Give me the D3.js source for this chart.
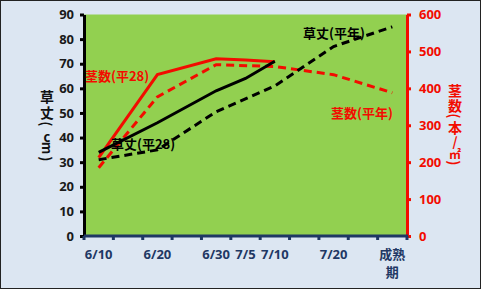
<!DOCTYPE html>
<meta charset="utf-8">
<style>
body { margin: 0; }
svg { display: block; font-family: "Noto Sans CJK JP", "Noto Sans", sans-serif; font-weight: bold; }
</style>
<body></body>
<script src="https://cdn.jsdelivr.net/npm/d3@7"></script>
<script>

var cats = ["6/10", "6/15", "6/20", "6/25", "6/30", "7/5", "7/10", "7/15", "7/20", "7/25", "成熟期"];
var catLabels = ["6/10", "", "6/20", "", "6/30", "7/5", "7/10", "", "7/20", "", "成熟期"];

// 草丈 (cm), left axis
var heightH28 = [34, null, 46, null, 59, 64, 71, null, null, null, null];
var heightAvg = [31, null, 35, null, 50.5, null, 61, null, 77, null, 85];
// 茎数 (本/㎡), right axis
var stemsH28 = [212, null, 437, null, 480, 477, 472, null, null, null, null];
var stemsAvg = [185, null, 377, null, 464, null, 459, null, 437, null, 388];

var leftTicks = [0, 10, 20, 30, 40, 50, 60, 70, 80, 90];
var rightTicks = [0, 100, 200, 300, 400, 500, 600];

var w = 481, h = 289,
    pl = 84, pr = 407, pt = 14.5, pb = 236;

var red = "#f20c00", navy = "#1f3864";

var svg = d3.select("body").append("svg")
    .attr("width", w)
    .attr("height", h);

svg.append("rect")
    .attr("x", 0.5).attr("y", 0.5)
    .attr("width", w - 1).attr("height", h - 1)
    .attr("fill", "#dce6f2")
    .attr("stroke", "#222");

var x = d3.scaleBand().domain(cats).range([pl, pr]);
var yL = d3.scaleLinear().domain([0, 90]).range([pb, pt]);
var yR = d3.scaleLinear().domain([0, 600]).range([pb, pt]);

svg.append("rect")
    .attr("x", pl).attr("y", pt)
    .attr("width", pr - pl).attr("height", pb - pt)
    .attr("fill", "#92d050");

function series(vals) {
  return cats.map(function(c, i) { return {c: c, v: vals[i]}; })
    .filter(function(d) { return d.v != null; });
}

function draw(vals, y, color, dash) {
  var line = d3.line()
      .x(function(d) { return x(d.c) + x.bandwidth() / 2; })
      .y(function(d) { return y(d.v); });
  svg.append("path")
      .datum(series(vals))
      .attr("d", line)
      .attr("fill", "none")
      .attr("stroke", color)
      .attr("stroke-width", 3)
      .attr("stroke-dasharray", dash ? "8,5" : null);
}

draw(stemsAvg, yR, red, true);
draw(heightAvg, yL, "#000", true);
draw(stemsH28, yR, red, false);
draw(heightH28, yL, "#000", false);

// left axis
var ax = svg.append("g")
    .attr("transform", "translate(" + pl + ",0)")
    .call(d3.axisLeft(yL).tickValues(leftTicks).tickSize(4).tickSizeOuter(0).tickPadding(6));
ax.select(".domain").attr("stroke", "#000").attr("stroke-width", 3);
ax.selectAll(".tick line").attr("stroke", "#000").attr("stroke-width", 3);
ax.selectAll(".tick text").attr("fill", "#1a1a1a").style("font-size", "13px").style("font-family", "'Noto Sans', sans-serif");

// right axis
var ar = svg.append("g")
    .attr("transform", "translate(" + pr + ",0)")
    .call(d3.axisRight(yR).tickValues(rightTicks).tickSize(4).tickSizeOuter(0).tickPadding(8));
ar.select(".domain").attr("stroke", red).attr("stroke-width", 3);
ar.selectAll(".tick line").attr("stroke", red).attr("stroke-width", 3);
ar.selectAll(".tick text").attr("fill", red).style("font-size", "13px").style("font-family", "'Noto Sans', sans-serif");

// x axis
var axb = svg.append("g")
    .attr("transform", "translate(0," + pb + ")");
axb.append("line")
    .attr("x1", pl).attr("x2", pr + 1)
    .attr("stroke", navy).attr("stroke-width", 3);
axb.selectAll("line.tk")
    .data(d3.range(cats.length + 1))
  .enter().append("line")
    .attr("class", "tk")
    .attr("x1", function(i) { return pl + i * x.step(); })
    .attr("x2", function(i) { return pl + i * x.step(); })
    .attr("y1", 0).attr("y2", 4)
    .attr("stroke", navy).attr("stroke-width", 3);
axb.selectAll("text")
    .data(cats)
  .enter().append("text")
    .attr("x", function(d) { return x(d) + x.bandwidth() / 2; })
    .attr("y", 23)
    .attr("text-anchor", "middle")
    .attr("fill", navy)
    .style("font-size", "13px")
    .each(function(d, i) {
      var t = catLabels[i];
      if (t === "成熟期") {
        d3.select(this).append("tspan").attr("x", x(d) + x.bandwidth() / 2).text("成熟");
        d3.select(this).append("tspan").attr("x", x(d) + x.bandwidth() / 2).attr("dy", 18).text("期");
      } else {
        d3.select(this).text(t).style("font-family", "'Noto Sans', sans-serif");
      }
    });

// axis titles, stacked vertically; brackets and m turned sideways
var turned = ["(", ")", "m"];
function vtitle(chars, cx, ys, sizes, color) {
  svg.selectAll(null)
      .data(chars)
    .enter().append("text")
      .attr("x", cx)
      .attr("y", function(d, i) { return ys[i]; })
      .attr("text-anchor", "middle")
      .attr("dominant-baseline", "central")
      .attr("fill", color)
      .style("font-size", function(d, i) { return sizes[i] + "px"; })
      .attr("transform", function(d, i) {
        return turned.indexOf(d) >= 0 ? "rotate(90," + cx + "," + ys[i] + ")" : null;
      })
      .text(function(d) { return d; });
}
vtitle(["草", "丈", "(", "c", "m", ")"], 47, [96, 112, 124, 136, 148, 159],
       [14, 14, 14, 13, 13, 14], "#111");
vtitle(["茎", "数", "(", "本", "/", "㎡", ")"], 455, [90, 105, 116, 127, 141, 153, 163],
       [14, 14, 14, 14, 13, 12, 14], red);

// series labels
var notes = [
  {t: "茎数(平28)", x: 85, y: 75, c: red},
  {t: "草丈(平28)", x: 111, y: 143, c: "#000"},
  {t: "草丈(平年)", x: 303, y: 32, c: "#000"},
  {t: "茎数(平年)", x: 331, y: 112, c: red}
];
svg.selectAll(null)
    .data(notes)
  .enter().append("text")
    .attr("x", function(d) { return d.x; })
    .attr("y", function(d) { return d.y; })
    .attr("dominant-baseline", "central")
    .attr("fill", function(d) { return d.c; })
    .style("font-size", "13px")
    .text(function(d) { return d.t; });

</script>
